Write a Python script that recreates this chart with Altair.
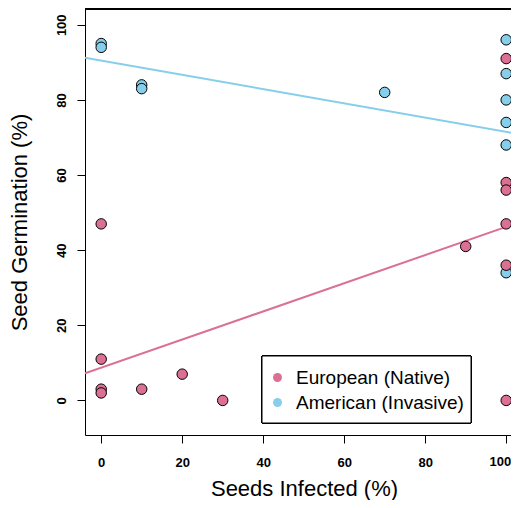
import altair as alt
import pandas as pd

# ---- data ----
eu_x = [0, 0, 0, 0, 10, 20, 30, 90, 100, 100, 100, 100, 100, 100]
eu_y = [47, 11, 3, 2, 3, 7, 0, 41, 91, 58, 56, 47, 36, 0]
am_x = [0, 0, 10, 10, 70, 100, 100, 100, 100, 100, 100]
am_y = [95, 94, 84, 83, 82, 96, 87, 80, 74, 68, 34]

groups = ["European (Native)", "American (Invasive)"]
colors = ["#DB7093", "#87CEEB"]
intercepts = [8.7, 90.5]
slopes = [0.375, -0.19]

x_ticks = [0, 20, 40, 60, 80, 100]
y_ticks = [0, 20, 40, 60, 80, 100]

# ---- layout ----
W, H = 426, 426
XMIN, XMAX = -4.0, -4.0 + 426 / 4.05
YMIN, YMAX = -9.2, 104.2
FONT = "Liberation Sans"

pts = pd.DataFrame({
    "x": am_x + eu_x,
    "y": am_y + eu_y,
    "g": [groups[1]] * len(am_x) + [groups[0]] * len(eu_x),
})

lines = pd.DataFrame({
    "x": [XMIN, XMAX, XMIN, XMAX],
    "y": [intercepts[0] + slopes[0] * XMIN, intercepts[0] + slopes[0] * XMAX,
          intercepts[1] + slopes[1] * XMIN, intercepts[1] + slopes[1] * XMAX],
    "g": [groups[0], groups[0], groups[1], groups[1]],
})

last_tick = pd.DataFrame({"v": [x_ticks[-1]], "t": [str(x_ticks[-1])]})

xs = alt.Scale(domain=[XMIN, XMAX], nice=False, zero=False)
ys = alt.Scale(domain=[YMIN, YMAX], nice=False, zero=False)
cs = alt.Scale(domain=groups, range=colors)

x_axis = alt.Axis(
    values=x_ticks, grid=False, tickSize=8, tickColor="black", domainColor="black",
    labelFont=FONT, labelFontSize=13, labelFontWeight="bold", labelColor="black",
    labelPadding=13, labelFlush=False,
    labelExpr=f"datum.value == {x_ticks[-1]} ? '' : datum.label",
    title="Seeds Infected (%)", titleFont=FONT, titleFontSize=22,
    titleFontWeight="normal", titleColor="black", titleBaseline="alphabetic",
    titleY=60.5, titleX=219, titleAlign="center",
)
y_axis = alt.Axis(
    values=y_ticks, grid=False, tickSize=8, tickColor="black", domainColor="black",
    labelFont=FONT, labelFontSize=13, labelFontWeight="bold", labelColor="black",
    labelAngle=270, labelAlign="center", labelBaseline="bottom", labelPadding=9,
    labelFlush=False,
    title="Seed Germination (%)", titleFont=FONT, titleFontSize=22,
    titleFontWeight="normal", titleColor="black", titleAngle=270,
    titleBaseline="alphabetic", titleX=-59, titleY=H / 2, titleAlign="center",
)

line_layer = alt.Chart(lines).mark_line(strokeWidth=2, clip=True).encode(
    x=alt.X("x:Q", scale=xs, axis=x_axis),
    y=alt.Y("y:Q", scale=ys, axis=y_axis),
    color=alt.Color("g:N", scale=cs, legend=None),
    detail="g:N",
)

point_layer = alt.Chart(pts).mark_point(
    filled=True, shape="circle", size=110, stroke="black", strokeWidth=1, opacity=1
).encode(
    x=alt.X("x:Q", scale=xs),
    y=alt.Y("y:Q", scale=ys),
    color=alt.Color(
        "g:N", scale=cs,
        legend=alt.Legend(
            title=None, orient="none", legendX=183, legendY=359,
            padding=0,
            labelFont=FONT, labelFontSize=19, labelColor="black", labelOffset=9,
            labelLimit=400,
            symbolType="circle", symbolSize=80, symbolStrokeWidth=0,
            symbolOpacity=1, rowPadding=5,
        ),
    ),
)

# last x tick label, kept inside the page edge
last_label = alt.Chart(last_tick).mark_text(
    align="right", baseline="top", dx=5, font=FONT, fontSize=13,
    fontWeight="bold", color="black"
).encode(
    x=alt.X("v:Q", scale=xs),
    y=alt.value(H + 8 + 13),
    text="t:N",
)

# legend frame
legend_box = alt.Chart(pts).mark_rect(
    fill="white", stroke="black", strokeWidth=1
).encode(
    x=alt.value(177), x2=alt.value(386), y=alt.value(347), y2=alt.value(414)
)

top_rule = alt.Chart(pts).mark_rule(color="black", strokeWidth=1).encode(
    x=alt.value(0), x2=alt.value(W), y=alt.value(0)
)

chart = alt.layer(line_layer, point_layer, legend_box, top_rule, last_label).resolve_scale(
    color="independent"
).properties(
    width=W, height=H,
    autosize=alt.AutoSizeParams(type="none"),
    padding={"left": 77, "top": 1, "right": 0, "bottom": 65},
).configure_view(stroke=None)

chart.save("out.html", embed_options={"renderer": "svg", "actions": False})
